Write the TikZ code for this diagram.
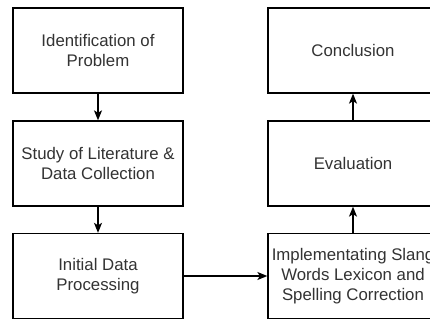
\documentclass[tikz,border=0pt]{standalone}
\usepackage{fontspec}
\setmainfont{Liberation Sans}
\usetikzlibrary{arrows.meta}
\definecolor{txt}{HTML}{333333}
\tikzset{
  stepbox/.style={draw=black, line width=1.3pt, fill=white, minimum width=170pt, minimum height=85pt,
    align=center, inner sep=0pt, text=txt, font=\fontsize{16.8}{20.2}\selectfont},
  flow/.style={draw=black, line width=1.3pt, -{Stealth[length=10pt,width=8pt,inset=2.5pt]}}
}
\begin{document}
\begin{tikzpicture}[x=1pt,y=-1pt]
\path[use as bounding box] (0,0) rectangle (430,320);
\clip (0,0) rectangle (430,320);
\node[stepbox] (ident) at (98,50.5) {Identification of\\Problem};
\node[stepbox] (study) at (98,163.5) {Study of Literature \&\\Data Collection};
\node[stepbox] (init) at (98,276) {Initial Data\\Processing};
\node[stepbox] (impl) at (353,276) {Implementating Slang\\Words Lexicon and\\Spelling Correction};
\node[stepbox] (eval) at (353,163.5) {Evaluation};
\node[stepbox] (concl) at (353,50.5) {Conclusion};
\draw[flow] (ident) -- (study);
\draw[flow] (study) -- (init);
\draw[flow] (init) -- (impl);
\draw[flow] (impl) -- (eval);
\draw[flow] (eval) -- (concl);
\end{tikzpicture}
\end{document}
